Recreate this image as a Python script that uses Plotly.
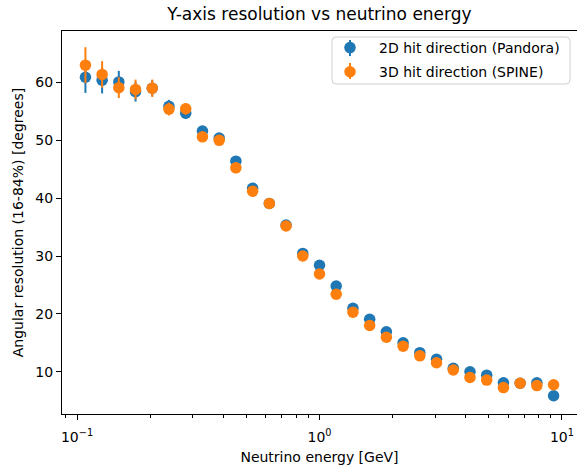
import plotly.graph_objects as go

# Bin centres of neutrino energy [GeV]
energy = [0.1083, 0.1269, 0.1487, 0.1743, 0.2043, 0.2394, 0.2807, 0.3290, 0.3857,
          0.4520, 0.5298, 0.6210, 0.7279, 0.8532, 1.0000, 1.1721, 1.3738, 1.6103,
          1.8874, 2.2122, 2.5930, 3.0392, 3.5622, 4.1753, 4.8939, 5.7362, 6.7234,
          7.8805, 9.2367]

pandora_res = [60.9, 60.4, 60.1, 58.4, 59.0, 55.9, 54.7, 51.6, 50.4, 46.4, 41.7, 39.1,
               35.35, 30.45, 28.4, 24.8, 20.95, 19.05, 16.9, 15.0, 13.3, 12.15, 10.6,
               10.0, 9.4, 8.1, 8.0, 8.1, 5.85]
pandora_err = [2.7, 2.3, 1.9, 1.7, 1.4, 1.1, 1.0, 0.8, 0.8, 0.7, 0.6, 0.5, 0.5, 0.5,
               0.5, 0.4, 0.4, 0.4, 0.4, 0.3, 0.3, 0.3, 0.3, 0.3, 0.3, 0.3, 0.3, 0.3, 0.3]

spine_res = [63.0, 61.4, 59.1, 58.8, 59.0, 55.4, 55.45, 50.6, 50.0, 45.25, 41.2, 39.1,
             35.2, 30.0, 26.9, 23.4, 20.3, 18.0, 15.95, 14.4, 12.75, 11.55, 10.3, 9.0,
             8.55, 7.25, 8.0, 7.6, 7.75]
spine_err = [3.1, 2.3, 1.8, 1.7, 1.5, 1.1, 1.0, 0.8, 0.8, 0.7, 0.6, 0.5, 0.5, 0.5,
             0.5, 0.4, 0.4, 0.4, 0.4, 0.3, 0.3, 0.3, 0.3, 0.3, 0.3, 0.3, 0.3, 0.3, 0.3]

series_names = ["2D hit direction (Pandora)", "3D hit direction (SPINE)"]
colors = ["#1f77b4", "#ff7f0e"]

x_major = [0.1, 1, 10]
x_major_text = ["10<sup>−1</sup>", "10<sup>0</sup>", "10<sup>1</sup>"]
x_minor = [0.09, 0.2, 0.3, 0.4, 0.5, 0.6, 0.7, 0.8, 0.9, 2, 3, 4, 5, 6, 7, 8, 9]
y_ticks = [10, 20, 30, 40, 50, 60]

FONT = "DejaVu Sans"

fig = go.Figure()
for i, (name, yv, ev, col) in enumerate([(series_names[0], pandora_res, pandora_err, colors[0]),
                                         (series_names[1], spine_res, spine_err, colors[1])]):
    fig.add_trace(go.Scatter(
        x=energy, y=yv, mode="markers", name=name, legendgroup=f"g{i}",
        marker=dict(color=col, size=11.5, line=dict(width=0)),
        error_y=dict(type="data", array=ev, visible=True, color=col,
                     thickness=2, width=0),
    ))

# plot area in page pixels
PL, PR, PT, PB = 62, 577, 31, 414
def px_to_paper_x(px):
    return (px - PL) / (PR - PL)
def px_to_paper_y(py):
    return (PB - py) / (PB - PT)

# legend frame (rounded, light grey)
bx0, bx1 = px_to_paper_x(332), px_to_paper_x(570)
by0, by1 = px_to_paper_y(84), px_to_paper_y(37)
rx = 4 / (PR - PL)
ry = 4 / (PB - PT)
path = (f"M {bx0+rx},{by1} L {bx1-rx},{by1} Q {bx1},{by1} {bx1},{by1-ry} "
        f"L {bx1},{by0+ry} Q {bx1},{by0} {bx1-rx},{by0} "
        f"L {bx0+rx},{by0} Q {bx0},{by0} {bx0},{by0+ry} "
        f"L {bx0},{by1-ry} Q {bx0},{by1} {bx0+rx},{by1} Z")

shapes = [dict(type="path", path=path, xref="paper", yref="paper",
               line=dict(color="#d0d0d0", width=1),
               fillcolor="rgba(255,255,255,0.8)", layer="above")]
# small error-bar strokes behind the legend markers
for row_y, col in zip([48, 71], colors):
    shapes.append(dict(type="line", xref="paper", yref="paper",
                       x0=px_to_paper_x(350), x1=px_to_paper_x(350),
                       y0=px_to_paper_y(row_y - 8), y1=px_to_paper_y(row_y + 8),
                       line=dict(color=col, width=2), layer="above"))

fig.update_layout(
    width=577, height=465,
    margin=dict(l=PL, r=577 - PR, t=PT, b=465 - PB),
    plot_bgcolor="white", paper_bgcolor="white",
    font=dict(family=FONT, size=14, color="black"),
    title=dict(text="Y-axis resolution vs neutrino energy", x=0.5, xref="paper",
               xanchor="center", y=1 - 14 / 465, yref="container", yanchor="middle",
               font=dict(family=FONT, size=17, color="black")),
    showlegend=True,
    legend=dict(x=px_to_paper_x(321), xanchor="left", y=px_to_paper_y(32), yanchor="top",
                borderwidth=0, bgcolor="rgba(0,0,0,0)",
                font=dict(family=FONT, size=14, color="black"),
                tracegroupgap=3, itemwidth=48),
    shapes=shapes,
    hovermode=False,
)

fig.update_xaxes(
    type="log", range=[-1.062, 1.062], automargin=False,
    tickmode="array", tickvals=x_major, ticktext=x_major_text,
    ticks="outside", ticklen=5, tickwidth=1, tickcolor="black",
    ticklabelstandoff=5,
    minor=dict(tickmode="array", tickvals=x_minor, ticks="outside", ticklen=3,
               tickwidth=1, tickcolor="black", showgrid=False),
    showline=True, linecolor="black", linewidth=1, mirror=True,
    showgrid=False, zeroline=False,
    title=dict(text="Neutrino energy [GeV]", standoff=8,
               font=dict(family=FONT, size=14)),
    tickfont=dict(family=FONT, size=14),
)
fig.update_yaxes(
    range=[2.69, 68.9], automargin=False,
    tickmode="array", tickvals=y_ticks,
    ticks="outside", ticklen=5, tickwidth=1, tickcolor="black",
    showline=True, linecolor="black", linewidth=1, mirror=True,
    showgrid=False, zeroline=False,
    title=dict(text="Angular resolution (16-84%) [degrees]", standoff=8,
               font=dict(family=FONT, size=14)),
    tickfont=dict(family=FONT, size=14),
)

fig.write_html("out.html", config={"displayModeBar": False},
               post_script="document.body.style.margin='0';document.body.style.overflow='hidden';")
